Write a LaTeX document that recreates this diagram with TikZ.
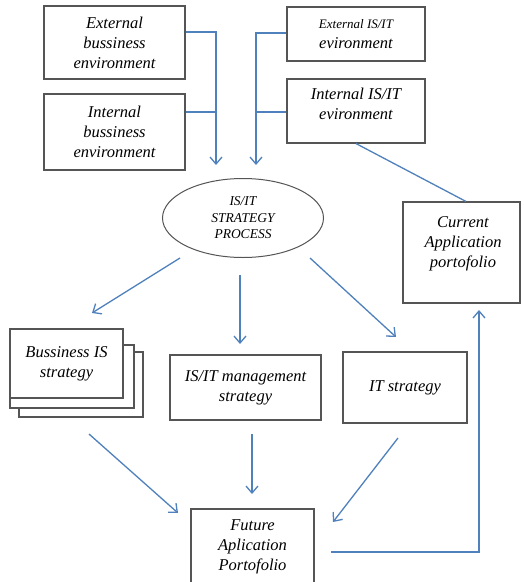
\documentclass[tikz,border=0pt]{standalone}
\usepackage{fontspec}
\setmainfont{Liberation Serif}
\usetikzlibrary{arrows.meta,shapes.geometric}
\definecolor{lblue}{RGB}{79,129,189}
\definecolor{bgray}{RGB}{85,85,85}
\begin{document}
\begin{tikzpicture}[x=1pt,y=-1pt,
  box/.style={draw=bgray,line width=1.1pt,rectangle,inner sep=0pt,align=center,fill=white,
    font=\fontsize{16.5}{20}\selectfont\itshape},
  txt/.style={inner sep=0pt,align=center,font=\fontsize{16.5}{20}\selectfont\itshape},
  conn/.style={draw=lblue,line width=1.3pt},
  arr/.style={conn,-{Straight Barb[length=7pt,width=12pt]}}]
\fill[white] (0,0) rectangle (523,582);
\clip (0,0) rectangle (523,582);
% top boxes
\node[box,minimum width=141pt,minimum height=73pt] (extbus) at (114.5,42.5) {External\\bussiness\\environment};
\node[box,minimum width=141pt,minimum height=76pt] (intbus) at (114.5,132) {Internal\\bussiness\\environment};
\node[box,minimum width=138pt,minimum height=54pt] (extis) at (356,34) {{\fontsize{13}{16}\selectfont External IS/IT}\\evironment};
\node[box,minimum width=138pt,minimum height=64pt] (intis) at (356,111) {};
\node[txt] (intisT) at (356,104) {Internal IS/IT\\evironment};
% process
\node[ellipse,draw=bgray,line width=1pt,minimum width=161pt,minimum height=79pt,inner sep=0pt,align=center,
  font=\fontsize{13.5}{16.5}\selectfont\itshape] (proc) at (243,218) {IS/IT\\STRATEGY\\PROCESS};
% current portfolio
\node[box,minimum width=117pt,minimum height=101pt] (cur) at (461.5,252.5) {};
\node[txt] (curT) at (463,244) {Current\\Application\\portofolio};
% stacked business IS strategy
\draw[bgray,line width=1.1pt,fill=white] (19,352) rectangle (143,417);
\draw[bgray,line width=1.1pt,fill=white] (10,345) rectangle (134,408);
\node[box,minimum width=113pt,minimum height=69pt] (bus) at (66.5,363.5) {Bussiness IS\\strategy};
\node[box,minimum width=151pt,minimum height=65pt] (mgmt) at (245.5,387.5) {IS/IT management\\strategy};
\node[box,minimum width=124pt,minimum height=71pt] (itstr) at (405,387.5) {IT strategy};
\node[box,minimum width=123pt,minimum height=91pt] (fut) at (252.5,554.5) {};
\node[txt] (futT) at (252.5,547) {Future\\Aplication\\Portofolio};
% connectors to process
\coordinate (lend) at (216,165);
\coordinate (rend) at (256,165);
\draw[arr] ([yshift=10.5pt]extbus.east) -| (lend);
\draw[conn] ([yshift=20pt]intbus.east) -- (lend |- 0,112);
\draw[arr] ([yshift=1pt]extis.west) -| (rend);
\draw[conn] ([yshift=-1pt]intis.west) -- (rend |- 0,112);
\draw[conn] (intis.south) -- ([xshift=4.5pt]cur.north);
% process outputs
\coordinate (p1s) at (180,258); \coordinate (p1e) at (92,313);
\coordinate (p2s) at (240,275); \coordinate (p2e) at (240,344);
\coordinate (p3s) at (310,258); \coordinate (p3e) at (396,337);
\draw[arr] (p1s) -- (p1e);
\draw[arr] (p2s) -- (p2e);
\draw[arr] (p3s) -- (p3e);
% to future
\coordinate (f1s) at (89,434); \coordinate (f1e) at (178,513);
\coordinate (f2s) at (252,434); \coordinate (f2e) at (252,494);
\coordinate (f3s) at (398,438); \coordinate (f3e) at (333,522);
\draw[arr] (f1s) -- (f1e);
\draw[arr] (f2s) -- (f2e);
\draw[arr] (f3s) -- (f3e);
% future to current
\coordinate (fcs) at (331,552);
\coordinate (fce) at (479,310);
\draw[arr] (fcs) -| (fce);
\end{tikzpicture}
\end{document}
